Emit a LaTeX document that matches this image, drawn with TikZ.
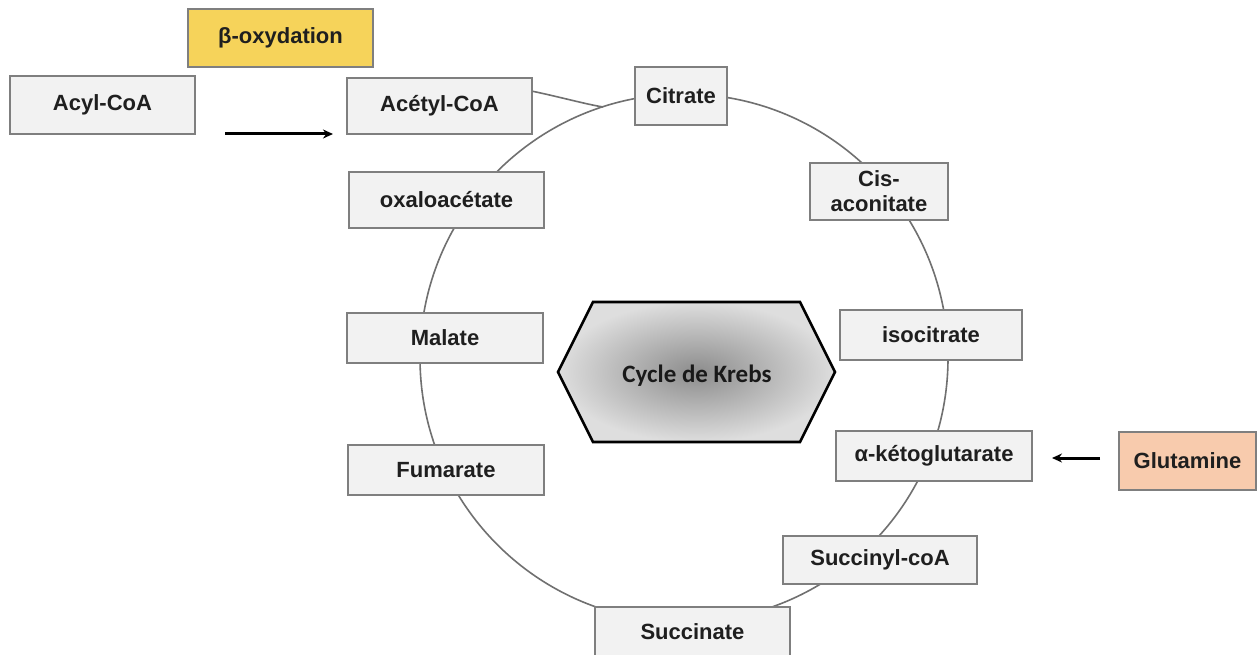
\documentclass[tikz,border=0pt]{standalone}
\usepackage{fontspec}
\setmainfont{Liberation Sans}
\newfontfamily\krebsfont{Carlito}
\usetikzlibrary{arrows.meta,shadings}
\definecolor{boxfill}{HTML}{F2F2F2}
\definecolor{boxline}{HTML}{7F7F7F}
\definecolor{ringline}{HTML}{707070}
\definecolor{yel}{HTML}{F6D35A}
\definecolor{peach}{HTML}{F8CBAD}
\tikzset{
  stepbox/.style={draw=boxline, fill=boxfill, line width=1.4pt, inner sep=0pt,
    font=\fontsize{22}{24}\selectfont\bfseries, text=black!88, align=center},
  ring/.style={draw=ringline, line width=1.6pt},
  flow/.style={draw=black, line width=3pt, -{Stealth[length=10pt,width=9pt]}},
}
\begin{document}
\begin{tikzpicture}[x=1pt,y=-1pt]
\useasboundingbox (0,0) rectangle (1257,655);
\fill[white] (0,0) rectangle (1257,655);
% ring
\draw[ring] (684,358) circle [radius=264pt];
% hexagon
\coordinate (h1) at (558,372);
\coordinate (h2) at (593,302);
\coordinate (h3) at (800,302);
\coordinate (h4) at (835,372);
\coordinate (h5) at (800,442);
\coordinate (h6) at (593,442);
\shade[inner color=black!45, outer color=black!13]
  (h1) -- (h2) -- (h3) -- (h4) -- (h5) -- (h6) -- cycle;
\draw[line width=2.6pt, line join=miter]
  (h1) -- (h2) -- (h3) -- (h4) -- (h5) -- (h6) -- cycle;
\node[font=\krebsfont\fontsize{25}{28}\selectfont\bfseries, text=black!90] (krebs) at (697,376) {Cycle de Krebs};
% boxes
\node[stepbox, fill=yel, minimum width=185pt, minimum height=58pt] (beta) at (280.5,38) {β-oxydation};
\node[stepbox, minimum width=185pt, minimum height=58pt] (acyl) at (102.5,105) {Acyl-CoA};
\node[stepbox, minimum width=185pt, minimum height=56pt] (acetyl) at (439.5,106) {Acétyl-CoA};
\node[stepbox, minimum width=92pt, minimum height=58pt] (citrate) at (681,96) {Citrate};
\node[stepbox, minimum width=138pt, minimum height=57pt, font=\fontsize{22}{25}\selectfont\bfseries] (cis) at (879,191.5) {Cis-\\aconitate};
\node[stepbox, minimum width=195pt, minimum height=56pt] (oxalo) at (446.5,200) {oxaloacétate};
\node[stepbox, minimum width=196pt, minimum height=50pt] (malate) at (445,338) {Malate};
\node[stepbox, minimum width=182pt, minimum height=50pt] (iso) at (931,335) {isocitrate};
\node[stepbox, minimum width=196pt, minimum height=50pt] (akg) at (934,456) {α-kétoglutarate};
\node[stepbox, fill=peach, minimum width=137pt, minimum height=58pt] (glut) at (1187.5,461) {Glutamine};
\node[stepbox, minimum width=196pt, minimum height=50pt] (fum) at (446,470) {Fumarate};
\node[stepbox, minimum width=194pt, minimum height=48pt] (succoa) at (880,560) {Succinyl-coA};
\node[stepbox, minimum width=195pt, minimum height=50pt] (succ) at (692.5,632) {Succinate};
% connectors
\coordinate (a1) at (225,134);
\coordinate (a2) at (333,134);
\draw[flow] (a1) -- (a2);
\coordinate (g1) at (1100,458);
\coordinate (g2) at (1052,458);
\draw[flow] (g1) -- (g2);
\coordinate (join) at (603,107);
\draw[ring] ([yshift=-14pt]acetyl.north east) .. controls (560,97) and (585,104) .. (join);
\end{tikzpicture}
\end{document}
